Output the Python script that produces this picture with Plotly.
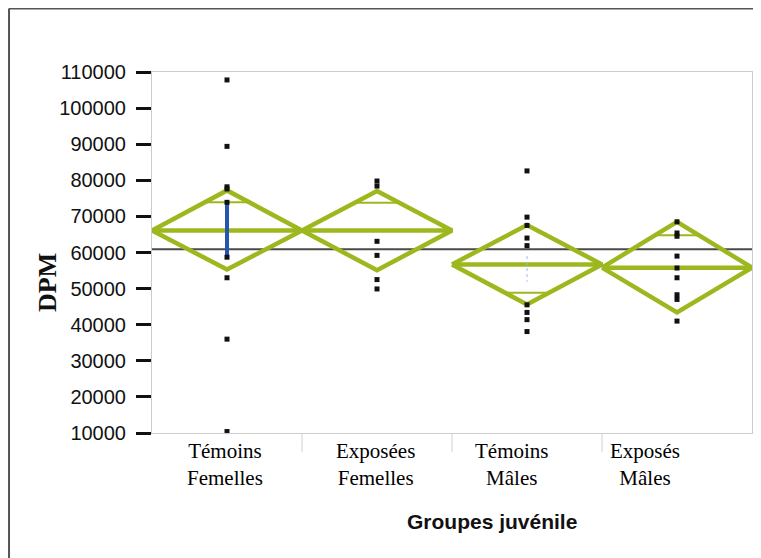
import math
import plotly.graph_objects as go

# ---------------- data ----------------
groups = ["Témoins<br>Femelles", "Exposées<br>Femelles", "Témoins<br>Mâles", "Exposés<br>Mâles"]
means = [66100, 66100, 56700, 55800]
ci_upper = [77200, 77000, 67600, 68500]
ci_lower = [55300, 55100, 45600, 43400]
grand_mean = 60900

pts_temoins_f = [107800, 89400, 78200, 77600, 73900, 58700, 53000, 36000, 10400]
pts_exposees_f = [79800, 78400, 63100, 59200, 52500, 49900]
pts_temoins_m = [82600, 69800, 67500, 64000, 61900, 45500, 43400, 41400, 38100]
pts_exposes_m = [68500, 65400, 64500, 59000, 55700, 53000, 48300, 47000, 41000]
points = [pts_temoins_f, pts_exposees_f, pts_temoins_m, pts_exposes_m]

sd_line_tf = [74000, 58500]   # blue bar, Témoins Femelles
sd_line_tm = [59000, 51900]   # faint dotted bar, Témoins Mâles

y_ticks = list(range(10000, 110001, 10000))
x_title = "Groupes juvénile"
y_title = "DPM"

# ---------------- styles ----------------
GREEN = "#9DB81F"
label_xshift = [-2, -2, -15, -32]
show_upper_mark = [True, True, False, True]    # overlap marks visible in the scan
show_lower_mark = [False, False, True, False]

fig = go.Figure()

# grand mean line
fig.add_trace(go.Scatter(x=[-0.5, 3.5], y=[grand_mean, grand_mean], mode="lines",
                         line=dict(color="#4a4a4a", width=2), hoverinfo="skip"))

half_off = 1 / math.sqrt(2)
ov_w = 0.5 * (1 - half_off)
for i, (m, up, lo) in enumerate(zip(means, ci_upper, ci_lower)):
    fig.add_trace(go.Scatter(x=[i - 0.5, i, i + 0.5, i, i - 0.5],
                             y=[m, up, m, lo, m], mode="lines",
                             line=dict(color=GREEN, width=4.5), hoverinfo="skip"))
    fig.add_trace(go.Scatter(x=[i - 0.5, i + 0.5], y=[m, m], mode="lines",
                             line=dict(color=GREEN, width=4.5), hoverinfo="skip"))
    marks = []
    if show_upper_mark[i]:
        marks.append(m + (up - m) * half_off)
    if show_lower_mark[i]:
        marks.append(m - (m - lo) * half_off)
    for yv in marks:
        fig.add_trace(go.Scatter(x=[i - ov_w, i + ov_w], y=[yv, yv], mode="lines",
                                 line=dict(color=GREEN, width=2), hoverinfo="skip"))

# blue bars
fig.add_trace(go.Scatter(x=[0, 0], y=sd_line_tf, mode="lines",
                         line=dict(color="#2456B0", width=4), hoverinfo="skip"))
fig.add_trace(go.Scatter(x=[2, 2], y=sd_line_tm, mode="lines",
                         line=dict(color="#9DB7E6", width=1, dash="dot"), hoverinfo="skip"))

# data points
for i, vals in enumerate(points):
    fig.add_trace(go.Scatter(x=[i] * len(vals), y=vals, mode="markers",
                             marker=dict(symbol="square", size=5, color="#111111"),
                             cliponaxis=False, hoverinfo="skip"))

annotations = []
for i, (g, xs) in enumerate(zip(groups, label_xshift)):
    annotations.append(dict(x=i, y=-0.087, xref="x", yref="paper", text=g, showarrow=False,
                            xshift=xs, yanchor="middle", align="center",
                            font=dict(family="Liberation Serif", size=21, color="#000000")))
annotations.append(dict(x=0.567, y=-0.2465, xref="paper", yref="paper", text="<b>" + x_title + "</b>",
                        showarrow=False, font=dict(family="Liberation Sans", size=21, color="#111111"),
                        xanchor="center", yanchor="middle"))
annotations.append(dict(x=-0.175, y=0.4155, xref="paper", yref="paper", text="<b>" + y_title + "</b>",
                        showarrow=False, textangle=-90,
                        font=dict(family="Liberation Serif", size=26, color="#111111"),
                        xanchor="center", yanchor="middle"))

shapes = []
for b in (0.5, 1.5, 2.5):
    shapes.append(dict(type="line", xref="x", yref="paper", x0=b, x1=b, y0=0, y1=-0.053,
                       line=dict(color="#d0d0d0", width=1)))
# outer scanned frame
shapes.append(dict(type="line", xref="paper", yref="paper", x0=-0.2383, x1=1.1, y0=1.1759, y1=1.1759,
                   line=dict(color="#555555", width=2)))
shapes.append(dict(type="line", xref="paper", yref="paper", x0=-0.2383, x1=-0.2383, y0=1.1759, y1=-0.4,
                   line=dict(color="#555555", width=2)))

# page body has an 8px margin: figure is sized/positioned to compensate
fig.update_layout(
    width=753, height=550,
    margin=dict(l=144, r=9, t=64, b=125),
    paper_bgcolor="white", plot_bgcolor="white",
    showlegend=False,
    annotations=annotations,
    shapes=shapes,
    xaxis=dict(range=[-0.5, 3.5], showgrid=False, zeroline=False, showticklabels=False,
               ticks="", showline=True, linecolor="#cccccc", linewidth=1, mirror=True),
    yaxis=dict(range=[10000, 110000], tickvals=y_ticks, ticktext=[str(v) for v in y_ticks],
               showgrid=False, zeroline=False, ticks="outside", ticklen=15, tickwidth=2.5,
               tickcolor="#111111", showline=True, linecolor="#cccccc", linewidth=1, mirror=True,
               ticklabelstandoff=6,
               tickfont=dict(family="Liberation Sans", size=20, color="#111111")),
)

fig.write_html("out.html")
